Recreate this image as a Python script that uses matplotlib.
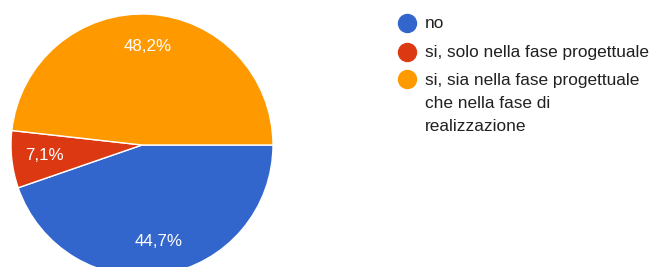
import matplotlib
matplotlib.use('Agg')
from matplotlib import pyplot as plt

# dati (risposte)
labels = ['no', 'si, solo nella fase progettuale',
          'si, sia nella fase progettuale\nche nella fase di\nrealizzazione']
counts = [38, 6, 41]
colors = ['#3366cc', '#dc3912', '#ff9900']

plt.rcParams['font.family'] = ['Liberation Sans', 'DejaVu Sans']

W, H = 651, 267
fig = plt.figure(figsize=(W / 100, H / 100), dpi=100)
ax = fig.add_axes([0, 0, 1, 1])
ax.set_xlim(0, W)
ax.set_ylim(0, H)
ax.set_aspect('equal')
ax.axis('off')

# torta
wedges, texts, autotexts = ax.pie(
    counts, colors=colors, center=(142, H - 145), radius=131,
    startangle=0, counterclock=False,
    autopct=lambda p: ('%.1f%%' % p).replace('.', ','),
    pctdistance=0.75,
    wedgeprops=dict(edgecolor='white', linewidth=1),
    textprops=dict(color='white', fontsize=12.2),
    frame=True)
ax.set_xlim(0, W)
ax.set_ylim(0, H)
ax.axis('off')

# legenda
marker_y = [23, 52, 79]
text_y = [28, 57, 85]
for i, lab in enumerate(labels):
    ax.scatter(407, H - marker_y[i], s=168, color=colors[i], clip_on=False, zorder=3)
    for j, line in enumerate(lab.split('\n')):
        ax.text(425, H - text_y[i] - 23 * j, line, fontsize=12.45,
                color='#212121', va='baseline', ha='left')

fig.savefig('out.png', dpi=100)
